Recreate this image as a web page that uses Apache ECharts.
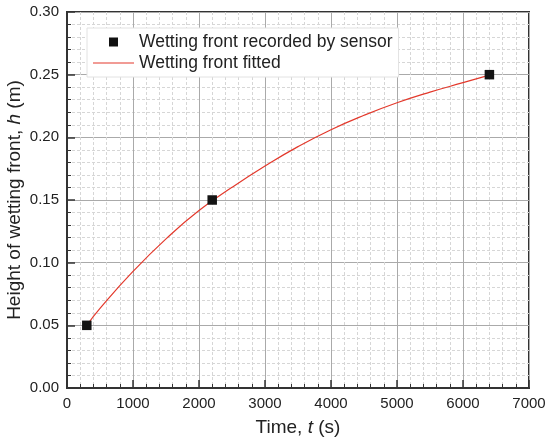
<!DOCTYPE html>
<html>
<head>
<meta charset="utf-8">
<script src="https://cdn.jsdelivr.net/npm/echarts@6/dist/echarts.min.js"></script>
<style>
html,body{margin:0;padding:0;background:#fff;}
#chart{width:546px;height:444px;}
</style>
</head>
<body>
<div id="chart"></div>
<script>
// Measured points (sensor)
const sensorT = [300, 2200, 6400];
const sensorH = [0.05, 0.15, 0.25];
// Fitted curve
const fitT = [300, 500, 1000, 1500, 2000, 2500, 3000, 3500, 4000, 4500, 5000, 5500, 6000, 6400];
const fitH = [0.050, 0.0635, 0.093, 0.119, 0.1416, 0.1601, 0.1771, 0.1926, 0.2061, 0.2176, 0.2276, 0.2361, 0.2436, 0.2496];
const seriesNames = ['Wetting front recorded by sensor', 'Wetting front fitted'];

const FONT = '"Liberation Sans", Arial, sans-serif';
const chart = echarts.init(document.getElementById('chart'), null, {renderer: 'canvas'});

function axisCommon() {
  return {
    axisLine: {show: true, onZero: false, lineStyle: {color: '#333', width: 2}},
    axisTick: {show: true, inside: true, length: 8, lineStyle: {color: '#333', width: 1.5}},
    minorTick: {show: true, splitNumber: 5, length: 4, lineStyle: {color: '#333', width: 1}},
    splitLine: {show: true, lineStyle: {color: '#aaaaaa', width: 1}},
    minorSplitLine: {show: true, lineStyle: {color: '#d6d6d6', width: 1, type: [3, 2]}}
  };
}

const option = {
  animation: false,
  backgroundColor: '#fff',
  grid: {left: 67, right: 17, top: 12, bottom: 56, show: true, borderColor: '#333', borderWidth: 2,
         containLabel: false, outerBoundsMode: 'none'},
  legend: {
    left: 87, top: 28, orient: 'vertical',
    padding: [5, 6, 5, 6],
    itemWidth: 41, itemHeight: 9, itemGap: 3,
    backgroundColor: '#fff', borderColor: '#e2e2e2', borderWidth: 1,
    textStyle: {fontSize: 17.5, color: '#222', fontFamily: FONT},
    symbolKeepAspect: true,
    data: [
      {name: seriesNames[0], icon: 'path://M0,0H10V10H0Z', itemStyle: {color: '#111'}},
      {name: seriesNames[1], icon: 'path://M0,0H41V1.2H0Z', itemStyle: {color: '#e3392c'}}
    ]
  },
  xAxis: Object.assign(axisCommon(), {
    type: 'value', min: 0, max: 7000, interval: 1000,
    axisLabel: {fontSize: 15, color: '#222', margin: 8, fontFamily: FONT,
      formatter: v => String(v)},
    name: '{n|Time, }{i|t}{n| (s)}',
    nameLocation: 'middle', nameGap: 30, nameMoveOverlap: false,
    nameTextStyle: {
      rich: {
        n: {fontSize: 19, color: '#222', fontFamily: FONT},
        i: {fontSize: 19, color: '#222', fontFamily: FONT, fontStyle: 'italic'}
      }
    }
  }),
  yAxis: Object.assign(axisCommon(), {
    type: 'value', min: 0, max: 0.30, interval: 0.05,
    axisLabel: {fontSize: 15, color: '#222', margin: 8, fontFamily: FONT,
      formatter: v => v.toFixed(2)},
    name: '{n|Height of wetting front, }{i|h}{n| (m)}',
    nameLocation: 'middle', nameGap: 43, nameMoveOverlap: false,
    nameTextStyle: {
      rich: {
        n: {fontSize: 19, color: '#222', fontFamily: FONT},
        i: {fontSize: 19, color: '#222', fontFamily: FONT, fontStyle: 'italic'}
      }
    }
  }),
  series: [
    {
      name: seriesNames[1], type: 'line', smooth: true, showSymbol: false, symbol: 'none',
      data: fitT.map((t, i) => [t, fitH[i]]),
      lineStyle: {color: '#e3392c', width: 1.2},
      itemStyle: {color: '#e3392c'},
      z: 2
    },
    {
      name: seriesNames[0], type: 'scatter', symbol: 'rect', symbolSize: 9.5,
      data: sensorT.map((t, i) => [t, sensorH[i]]),
      itemStyle: {color: '#141414', opacity: 1},
      z: 3
    }
  ]
};
chart.setOption(option);
</script>
</body>
</html>
